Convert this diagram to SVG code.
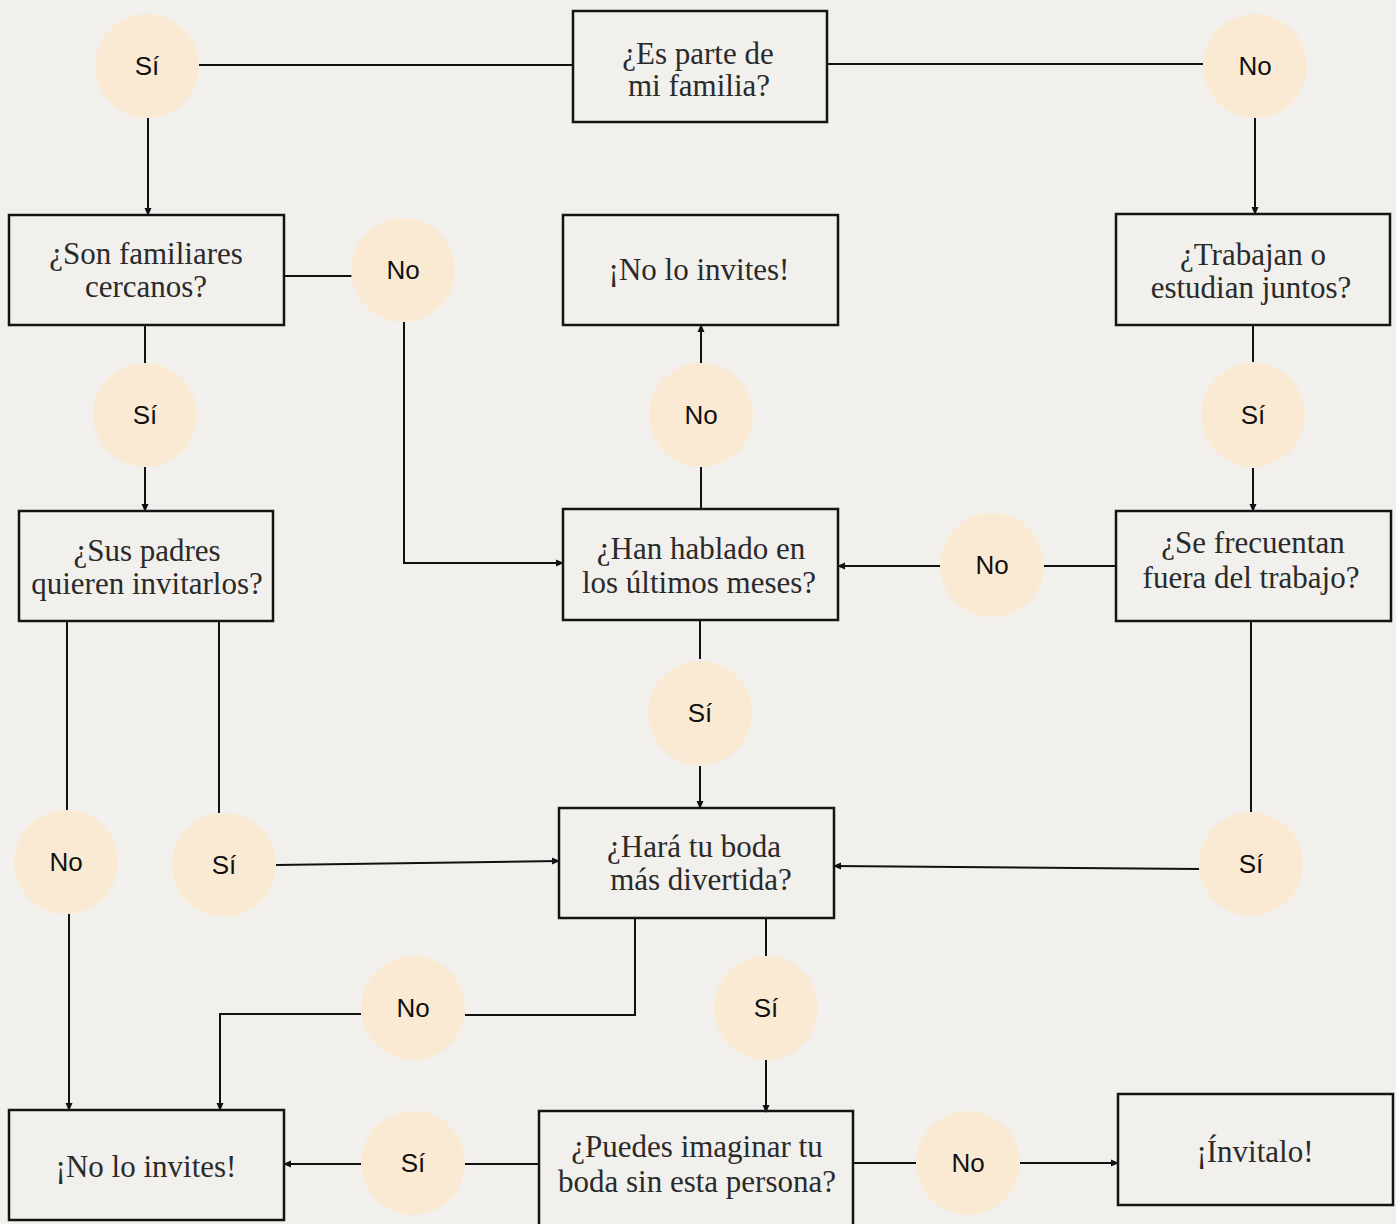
<svg xmlns="http://www.w3.org/2000/svg" width="1396" height="1224" viewBox="0 0 1396 1224">
<style>
.bg{fill:#f1f0ec}
.box{fill:none;stroke:#141414;stroke-width:2.5}
.c{fill:#fbead3}
.bt{font-family:"Liberation Serif","Times New Roman",serif;font-size:31px;fill:#2a2a2a;text-anchor:middle}
.ct{font-family:"Liberation Sans",Arial,sans-serif;font-size:26px;fill:#111;text-anchor:middle}
.ln{fill:none;stroke:#111;stroke-width:2}
</style>
<defs>
<marker id="ah" markerWidth="9" markerHeight="9" refX="7" refY="4" orient="auto" markerUnits="userSpaceOnUse"><path d="M0,0.5 L8,4 L0,7.5 z" fill="#111"/></marker>
</defs>
<rect class="bg" x="0" y="0" width="1396" height="1224"/>

<g id="connectors">
<path class="ln" d="M199,65 H573"/>
<path class="ln" d="M827,64 H1203"/>
<path class="ln" d="M148,118 V215" marker-end="url(#ah)"/>
<path class="ln" d="M1255,118 V214" marker-end="url(#ah)"/>
<path class="ln" d="M284,276 H352"/>
<path class="ln" d="M145,325 V363"/>
<path class="ln" d="M145,467 V511" marker-end="url(#ah)"/>
<path class="ln" d="M404,322 V563 H563" marker-end="url(#ah)"/>
<path class="ln" d="M701,363 V325" marker-end="url(#ah)"/>
<path class="ln" d="M701,509 V467"/>
<path class="ln" d="M1253,325 V362"/>
<path class="ln" d="M1253,468 V511" marker-end="url(#ah)"/>
<path class="ln" d="M1116,566 H1044"/>
<path class="ln" d="M940,566 H838" marker-end="url(#ah)"/>
<path class="ln" d="M700,620 V659"/>
<path class="ln" d="M700,766 V808" marker-end="url(#ah)"/>
<path class="ln" d="M67,621 V810"/>
<path class="ln" d="M219,621 V813"/>
<path class="ln" d="M69,914 V1110" marker-end="url(#ah)"/>
<path class="ln" d="M276,865 L559,861" marker-end="url(#ah)"/>
<path class="ln" d="M1251,621 V812"/>
<path class="ln" d="M1199,869 L834,866" marker-end="url(#ah)"/>
<path class="ln" d="M635,918 V1015 H465"/>
<path class="ln" d="M361,1014 H220 V1110" marker-end="url(#ah)"/>
<path class="ln" d="M766,918 V956"/>
<path class="ln" d="M766,1060 V1112" marker-end="url(#ah)"/>
<path class="ln" d="M539,1164 H465"/>
<path class="ln" d="M361,1164 H284" marker-end="url(#ah)"/>
<path class="ln" d="M853,1163 H916"/>
<path class="ln" d="M1020,1163 H1118" marker-end="url(#ah)"/>
</g>

<g id="box-familia"><rect class="box" x="573" y="11" width="254" height="111"/><text class="bt" x="698" y="64">¿Es parte de</text><text class="bt" x="699" y="96">mi familia?</text></g>
<g id="box-cercanos"><rect class="box" x="9" y="215" width="275" height="110"/><text class="bt" x="146" y="264">¿Son familiares</text><text class="bt" x="146" y="297">cercanos?</text></g>
<g id="box-noinvites-top"><rect class="box" x="563" y="215" width="275" height="110"/><text class="bt" x="699" y="280">¡No lo invites!</text></g>
<g id="box-trabajan"><rect class="box" x="1116" y="214" width="274" height="111"/><text class="bt" x="1253" y="265">¿Trabajan o</text><text class="bt" x="1251" y="298">estudian juntos?</text></g>
<g id="box-padres"><rect class="box" x="19" y="511" width="254" height="110"/><text class="bt" x="147" y="561">¿Sus padres</text><text class="bt" x="147" y="594">quieren invitarlos?</text></g>
<g id="box-hablado"><rect class="box" x="563" y="509" width="275" height="111"/><text class="bt" x="701" y="559">¿Han hablado en</text><text class="bt" x="699" y="593">los últimos meses?</text></g>
<g id="box-frecuentan"><rect class="box" x="1116" y="511" width="275" height="110"/><text class="bt" x="1253" y="553">¿Se frecuentan</text><text class="bt" x="1251" y="588">fuera del trabajo?</text></g>
<g id="box-divertida"><rect class="box" x="559" y="808" width="275" height="110"/><text class="bt" x="694" y="857">¿Hará tu boda</text><text class="bt" x="701" y="890">más divertida?</text></g>
<g id="box-noinvites-bottom"><rect class="box" x="9" y="1110" width="275" height="110"/><text class="bt" x="146" y="1177">¡No lo invites!</text></g>
<g id="box-imaginar"><rect class="box" x="539" y="1111" width="314" height="116"/><text class="bt" x="697" y="1157">¿Puedes imaginar tu</text><text class="bt" x="697" y="1192">boda sin esta persona?</text></g>
<g id="box-invitalo"><rect class="box" x="1118" y="1094" width="275" height="111"/><text class="bt" x="1255" y="1162">¡Ínvitalo!</text></g>

<g id="c-si-1"><circle class="c" cx="147" cy="66" r="52"/><text class="ct" x="147" y="75">Sí</text></g>
<g id="c-no-1"><circle class="c" cx="1255" cy="66" r="52"/><text class="ct" x="1255" y="75">No</text></g>
<g id="c-no-2"><circle class="c" cx="403" cy="270" r="52"/><text class="ct" x="403" y="279">No</text></g>
<g id="c-si-2"><circle class="c" cx="145" cy="415" r="52"/><text class="ct" x="145" y="424">Sí</text></g>
<g id="c-no-3"><circle class="c" cx="701" cy="415" r="52"/><text class="ct" x="701" y="424">No</text></g>
<g id="c-si-3"><circle class="c" cx="1253" cy="415" r="52"/><text class="ct" x="1253" y="424">Sí</text></g>
<g id="c-no-4"><circle class="c" cx="992" cy="565" r="52"/><text class="ct" x="992" y="574">No</text></g>
<g id="c-si-4"><circle class="c" cx="700" cy="713" r="52"/><text class="ct" x="700" y="722">Sí</text></g>
<g id="c-no-5"><circle class="c" cx="66" cy="862" r="52"/><text class="ct" x="66" y="871">No</text></g>
<g id="c-si-5"><circle class="c" cx="224" cy="865" r="52"/><text class="ct" x="224" y="874">Sí</text></g>
<g id="c-si-6"><circle class="c" cx="1251" cy="864" r="52"/><text class="ct" x="1251" y="873">Sí</text></g>
<g id="c-no-6"><circle class="c" cx="413" cy="1008" r="52"/><text class="ct" x="413" y="1017">No</text></g>
<g id="c-si-7"><circle class="c" cx="766" cy="1008" r="52"/><text class="ct" x="766" y="1017">Sí</text></g>
<g id="c-si-8"><circle class="c" cx="413" cy="1163" r="52"/><text class="ct" x="413" y="1172">Sí</text></g>
<g id="c-no-7"><circle class="c" cx="968" cy="1163" r="52"/><text class="ct" x="968" y="1172">No</text></g>
</svg>
